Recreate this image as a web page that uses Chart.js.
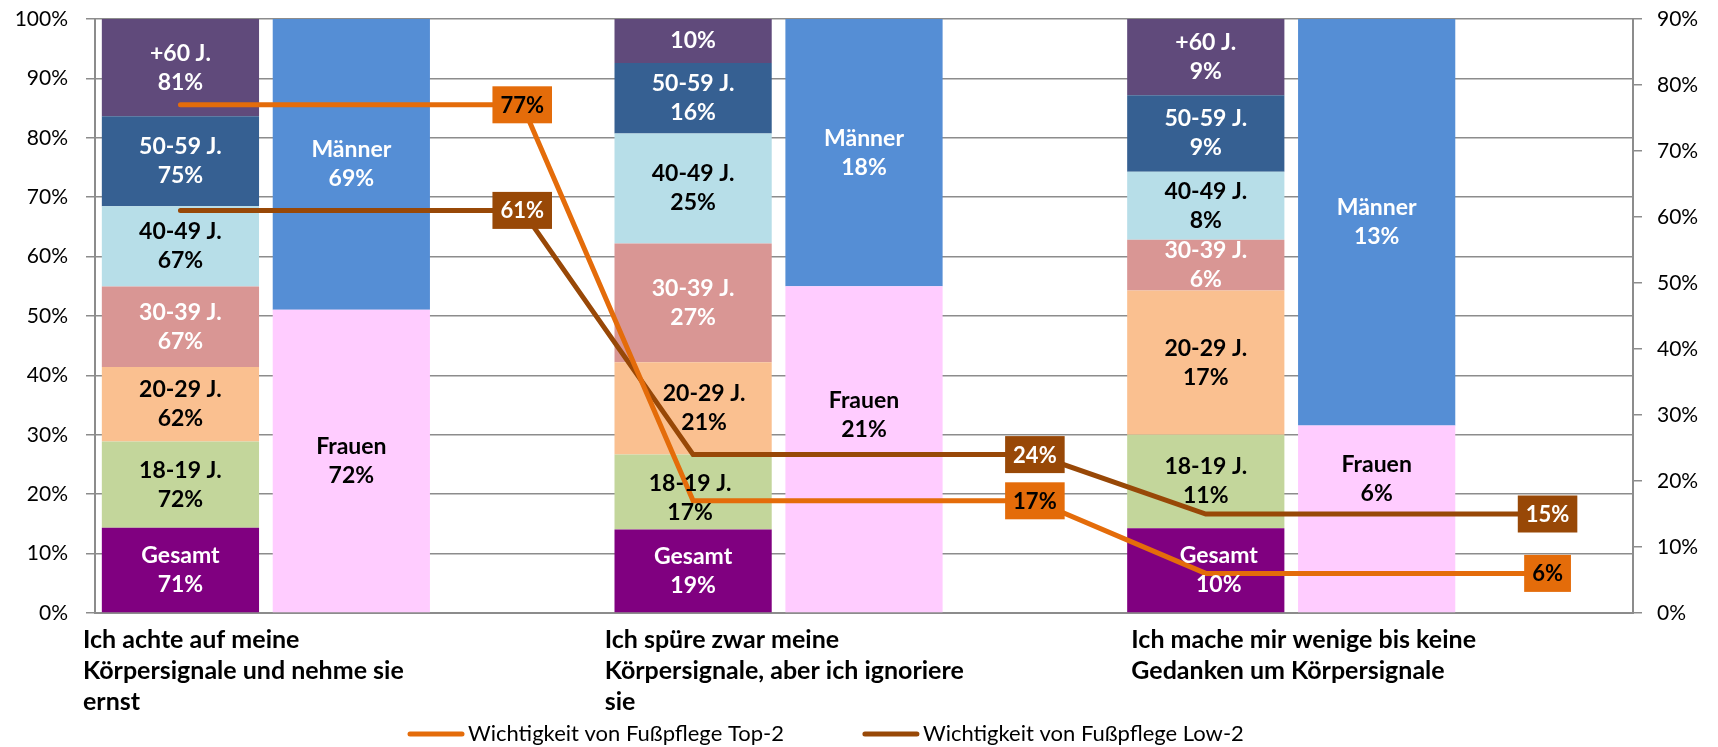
<!DOCTYPE html>
<html>
<head>
<meta charset="utf-8">
<title>Körpersignale und Fußpflege</title>
<script src="https://cdn.jsdelivr.net/npm/chart.js@4.4.1/dist/chart.umd.min.js"></script>
<style>
  html, body { margin: 0; padding: 0; background: #fff; }
  #wrap { width: 1718px; height: 747px; position: relative; }
</style>
</head>
<body>
<div id="wrap"><canvas id="chart"></canvas></div>
<script>
// categories (one entry per text line)
const categories = [
  ['Ich achte auf meine', 'Körpersignale und nehme sie', 'ernst'],
  ['Ich spüre zwar meine', 'Körpersignale, aber ich ignoriere', 'sie'],
  ['Ich mache mir wenige bis keine', 'Gedanken um Körpersignale']
];

// age groups, values as printed in the labels (each bar is stacked to 100%)
const ageGroups = ['Gesamt', '18-19 J.', '20-29 J.', '30-39 J.', '40-49 J.', '50-59 J.', '+60 J.'];
const gesamt = [71, 19, 10];
const age1819 = [72, 17, 11];
const age2029 = [62, 21, 17];
const age3039 = [67, 27, 6];
const age4049 = [67, 25, 8];
const age5059 = [75, 16, 9];
const age60 = [81, 10, 9];

const genderGroups = ['Frauen', 'Männer'];
const frauen = [72, 21.4, 6];
const maenner = [69, 17.5, 13];

// lines on the right axis
const lineNames = ['Wichtigkeit von Fußpflege Top-2', 'Wichtigkeit von Fußpflege Low-2'];
const top2 = [77, 17, 6];
const low2 = [61, 24, 15];

const leftTicks = [0, 10, 20, 30, 40, 50, 60, 70, 80, 90, 100];
const rightTicks = [0, 10, 20, 30, 40, 50, 60, 70, 80, 90];

// colours
const ageColors = ['#800080', '#C3D69B', '#FAC090', '#D99694', '#B7DEE8', '#366092', '#604A7B'];
const ageTextColors = ['#fff', '#000', '#000', '#fff', '#000', '#fff', '#fff'];
const genderColors = ['#FFCCFF', '#558ED5'];
const genderTextColors = ['#000', '#fff'];
const lineColors = ['#E46C0A', '#984807'];
const lineTextColors = ['#000', '#fff'];

// labels moved by hand in the original ("dataset-category": [dx, dy])
const labelNudge = {
  '1-1': [-3, 6],
  '2-1': [11, 0],
  '0-2': [13, 0],
  '7-1': [0, -34],
  '7-2': [0, -40]
};
const nameHidden = { '6-1': true };
const catTextShift = [-12, -3, 11];

const FONT = 'Lato, "Open Sans", sans-serif';
Chart.defaults.font.family = FONT;
Chart.defaults.color = '#000';

// every category has 3 slots on the x axis: age bar, gender bar, line label
const SLOTS = 3;

function toShares(rows) {
  const totals = rows[0].map((_, i) => rows.reduce((s, r) => s + r[i], 0));
  return rows.map(r => r.map((v, i) => v / totals[i] * 100));
}

function inSlot(vals, slot) {
  return vals.map((v, i) => ({ x: i * SLOTS + slot + 0.5, y: v }));
}

// a line point on the age bar and another on the empty third slot (where its label sits)
function linePoints(vals) {
  const pts = [];
  vals.forEach((v, i) => {
    pts.push({ x: i * SLOTS + 0.5, y: v });
    pts.push({ x: i * SLOTS + 2.5, y: v });
  });
  return pts;
}

const ageRows = [gesamt, age1819, age2029, age3039, age4049, age5059, age60];
const genderRows = [frauen, maenner];
const ageShares = toShares(ageRows);
const genderShares = toShares(genderRows);

const datasets = [];
ageGroups.forEach((name, k) => {
  datasets.push({
    label: name, data: inSlot(ageShares[k], 0), raw: ageRows[k], stack: 'bars',
    backgroundColor: ageColors[k], textColor: ageTextColors[k], yAxisID: 'y'
  });
});
genderGroups.forEach((name, k) => {
  datasets.push({
    label: name, data: inSlot(genderShares[k], 1), raw: genderRows[k], stack: 'bars',
    backgroundColor: genderColors[k], textColor: genderTextColors[k], yAxisID: 'y'
  });
});
[top2, low2].forEach((vals, k) => {
  datasets.push({
    type: 'line', label: lineNames[k], data: linePoints(vals), values: vals, yAxisID: 'y2',
    borderColor: lineColors[k], backgroundColor: lineColors[k], textColor: lineTextColors[k],
    borderWidth: 5, pointRadius: 0, borderCapStyle: 'round', borderJoinStyle: 'miter',
    tension: 0, fill: false, order: -1
  });
});

const labelPlugin = {
  id: 'valueLabels',
  afterDatasetsDraw(chart) {
    const ctx = chart.ctx;
    ctx.save();
    ctx.textAlign = 'center';
    ctx.textBaseline = 'middle';
    ctx.font = 'bold 23px ' + FONT;
    chart.data.datasets.forEach((ds, di) => {
      if (!ds.raw) return;
      chart.getDatasetMeta(di).data.forEach((bar, i) => {
        const key = di + '-' + i;
        const nudge = labelNudge[key] || [0, 0];
        const x = bar.x + nudge[0];
        const y = (bar.y + bar.base) / 2 + nudge[1];
        const value = Math.round(ds.raw[i]) + '%';
        ctx.fillStyle = ds.textColor;
        if (nameHidden[key]) {
          ctx.fillText(value, x, y);
        } else {
          ctx.fillText(ds.label, x, y - 14.5);
          ctx.fillText(value, x, y + 14.5);
        }
      });
    });
    // boxed values at the end of each flat piece of line
    ctx.font = 'bold 22px ' + FONT;
    chart.data.datasets.forEach((ds, di) => {
      if (ds.type !== 'line') return;
      const pts = chart.getDatasetMeta(di).data;
      ds.values.forEach((v, i) => {
        const p = pts[i * 2 + 1];
        const text = v + '%';
        const w = ctx.measureText(text).width + 16;
        const h = 37;
        ctx.fillStyle = ds.borderColor;
        ctx.fillRect(p.x - w / 2, p.y - h / 2, w, h);
        ctx.fillStyle = ds.textColor;
        ctx.fillText(text, p.x, p.y + 1);
      });
    });
    ctx.restore();
  },
  afterDraw(chart) {
    const ctx = chart.ctx;
    const xs = chart.scales.x;
    ctx.save();
    // category labels, left aligned
    ctx.font = 'bold 25px ' + FONT;
    ctx.fillStyle = '#000';
    ctx.textAlign = 'left';
    ctx.textBaseline = 'middle';
    categories.forEach((lines, i) => {
      const x0 = xs.getPixelForValue(i * SLOTS) + catTextShift[i];
      lines.forEach((line, j) => ctx.fillText(line, x0, xs.top + 27 + j * 31));
    });
    // legend for the two lines
    ctx.font = '22px ' + FONT;
    let x = 410;
    const y = 734;
    chart.data.datasets.forEach(ds => {
      if (ds.type !== 'line') return;
      ctx.strokeStyle = ds.borderColor;
      ctx.lineWidth = 5;
      ctx.lineCap = 'round';
      ctx.beginPath();
      ctx.moveTo(x, y);
      ctx.lineTo(x + 52, y);
      ctx.stroke();
      ctx.fillStyle = '#000';
      ctx.fillText(ds.label, x + 58, y);
      x += 58 + ctx.measureText(ds.label).width + 81;
    });
    ctx.restore();
  }
};

const gridColor = '#8c8c8c';

new Chart(document.getElementById('chart'), {
  type: 'bar',
  data: { datasets: datasets },
  plugins: [labelPlugin],
  options: {
    responsive: true,
    maintainAspectRatio: false,
    animation: false,
    events: [],
    layout: { padding: { top: 19, right: 0, bottom: 0, left: 0 } },
    datasets: { bar: { barPercentage: 0.92, categoryPercentage: 1.0, borderWidth: 0 } },
    scales: {
      x: {
        type: 'linear', stacked: true, min: 0, max: categories.length * SLOTS, offset: false,
        afterBuildTicks: s => { s.ticks = categories.map((c, i) => ({ value: i * SLOTS })); },
        afterFit: s => { s.height = 134; s.paddingLeft = 0; s.paddingRight = 0; },
        grid: { offset: false, drawOnChartArea: false, drawTicks: false },
        border: { color: gridColor, width: 2 },
        ticks: { display: false }
      },
      y: {
        stacked: true, min: 0, max: 100,
        afterBuildTicks: s => { s.ticks = leftTicks.map(v => ({ value: v })); },
        afterFit: s => { s.width = 95; s.paddingTop = 0; s.paddingBottom = 0; },
        grid: { color: gridColor, lineWidth: 1.5, tickLength: 9 },
        border: { color: gridColor, width: 2 },
        ticks: { padding: 18, color: '#000', font: { size: 21 }, callback: v => v + '%' }
      },
      y2: {
        position: 'right', min: 0, max: 90,
        afterBuildTicks: s => { s.ticks = rightTicks.map(v => ({ value: v })); },
        afterFit: s => { s.width = 85; s.paddingTop = 0; s.paddingBottom = 0; },
        grid: { drawOnChartArea: false, color: gridColor, lineWidth: 1.5, tickLength: 9 },
        border: { color: gridColor, width: 2 },
        ticks: { padding: 15, color: '#000', font: { size: 21 }, callback: v => v + '%' }
      }
    },
    plugins: {
      tooltip: { enabled: false },
      legend: { display: false }
    }
  }
});
</script>
</body>
</html>
